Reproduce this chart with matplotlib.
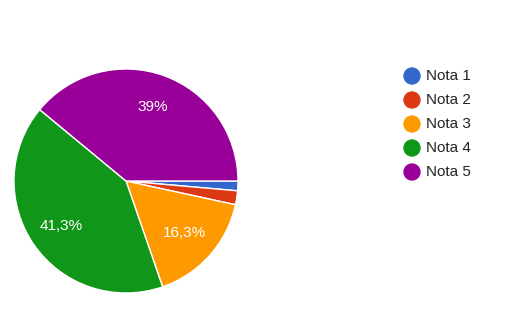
import matplotlib
matplotlib.use("Agg")
import matplotlib.pyplot as plt

categories = ["Nota 1", "Nota 2", "Nota 3", "Nota 4", "Nota 5"]
values = [1.4, 2.0, 16.3, 41.3, 39.0]
colors = ["#3366cc", "#dc3912", "#ff9900", "#109618", "#990099"]

plt.rcParams['font.family'] = ['Liberation Sans', 'DejaVu Sans']

W, H = 517, 321
fig = plt.figure(figsize=(W/100, H/100), dpi=100)
cx, cy, r = 126, 181, 112
ax = fig.add_axes([(cx - r)/W, (H - cy - r)/H, 2*r/W, 2*r/H])
ax.set_aspect('equal')

def fmt(p):
    if p < 5:
        return ''
    s = f"{p:.1f}".replace('.', ',')
    if s.endswith(',0'):
        s = s[:-2]
    return s + '%'

wedges, texts, autotexts = ax.pie(values, colors=colors, startangle=0, counterclock=False,
       autopct=fmt, pctdistance=0.7, radius=1,
       wedgeprops=dict(edgecolor='white', linewidth=1),
       textprops=dict(color='white', fontsize=11))
ax.set_xlim(-1, 1)
ax.set_ylim(-1, 1)
ax.axis('off')

# legend drawn in pixel coordinates on an overlay axes
lg = fig.add_axes([0, 0, 1, 1], zorder=5)
lg.set_xlim(0, W)
lg.set_ylim(H, 0)
lg.axis('off')
for i, (name, c) in enumerate(zip(categories, colors)):
    y = 76 + 24 * i
    lg.scatter([412], [y], s=12.5**2, color=c, edgecolors='none')
    lg.text(426, y, name, va='center', ha='left', fontsize=11, color='#222222')

fig.savefig("out.png", dpi=100)
